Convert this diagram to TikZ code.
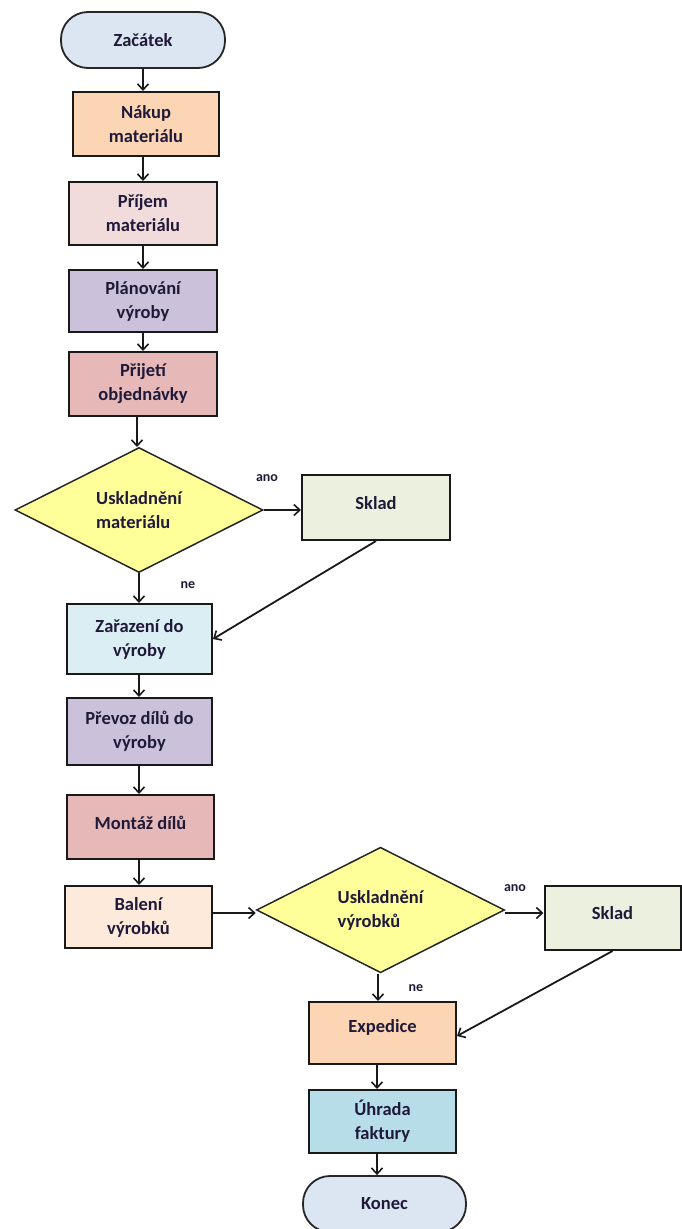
\documentclass[tikz,border=0pt]{standalone}
\usepackage{fontspec}
\setmainfont{Carlito}
\usetikzlibrary{arrows.meta,shapes.geometric}
\definecolor{cTerm}{HTML}{DCE6F2}
\definecolor{cPeach}{HTML}{FCD5B5}
\definecolor{cPink}{HTML}{F2DCDB}
\definecolor{cLilac}{HTML}{CCC1DA}
\definecolor{cRose}{HTML}{E6B9B8}
\definecolor{cYellow}{HTML}{FFFF99}
\definecolor{cSklad}{HTML}{EBF1DE}
\definecolor{cIce}{HTML}{DBEEF4}
\definecolor{cCream}{HTML}{FDEADA}
\definecolor{cAqua}{HTML}{B7DEE8}
\definecolor{cText}{HTML}{1F1A3A}
\begin{document}
\begin{tikzpicture}[x=1pt,y=-1pt,
  every node/.style={text=cText,font=\fontsize{18.5}{24}\selectfont\bfseries},
  procbox/.style={draw=black!90,line width=2pt,rectangle,align=center,inner sep=2pt,minimum width=#1},
  procbox/.default=148pt,
  termbox/.style={draw=black!85,line width=1.8pt,rectangle,rounded corners=27pt,fill=cTerm,minimum width=164pt,minimum height=56pt},
  decbox/.style={draw=black!85,line width=1.5pt,diamond,fill=cYellow,minimum width=248pt,minimum height=125pt,inner sep=0pt,align=left},
  flow/.style={draw=black!90,line width=1.8pt,-{Straight Barb[length=6pt,width=11pt,line width=1.6pt]}},
  lbl/.style={font=\fontsize{14}{16}\selectfont\bfseries}]
\useasboundingbox (0,0) rectangle (682,1229);
\fill[white] (0,0) rectangle (682,1229);
% top column
\node[termbox] (start) at (143,40) {Začátek};
\node[procbox=146pt,minimum height=64pt,fill=cPeach] (nakup) at (146,124) {Nákup\\materiálu};
\node[procbox,minimum height=63pt,fill=cPink] (prijem) at (143,213.5) {Příjem\\materiálu};
\node[procbox,minimum height=62pt,fill=cLilac] (plan) at (143,301) {Plánování\\výroby};
\node[procbox,minimum height=64pt,fill=cRose] (prijeti) at (143,384) {Přijetí\\objednávky};
\node[decbox] (d1) at (139,510) {Uskladnění\\materiálu};
\node[procbox,minimum height=65pt,fill=cSklad] (sklad1) at (376,507.5) {\raisebox{8pt}{Sklad}};
\node[procbox=145pt,minimum height=70pt,fill=cIce] (zar) at (139.5,639) {Zařazení do\\výroby};
\node[procbox=145pt,minimum height=67pt,fill=cLilac] (prevoz) at (139.5,731.5) {Převoz dílů do\\výroby};
\node[procbox=147pt,minimum height=64pt,fill=cRose] (montaz) at (140.5,827) {\raisebox{9pt}{Montáž dílů}};
\node[procbox=147pt,minimum height=62pt,fill=cCream] (baleni) at (138.5,917) {Balení\\výrobků};
\node[decbox] (d2) at (380.5,910) {Uskladnění\\výrobků};
\node[procbox=136pt,minimum height=64pt,fill=cSklad] (sklad2) at (612.5,918) {\raisebox{10pt}{Sklad}};
\node[procbox=147pt,minimum height=62pt,fill=cPeach] (exped) at (382.5,1033) {\raisebox{14pt}{Expedice}};
\node[procbox=147pt,minimum height=63pt,fill=cAqua] (uhrada) at (382.5,1121.5) {Úhrada\\faktury};
\node[termbox,minimum width=163pt] (konec) at (384.5,1204) {Konec};
% labels
\node[lbl] (ano1) at (267,478) {ano};
\node[lbl] (ne1) at (188,585) {ne};
\node[lbl] (ano2) at (515,888) {ano};
\node[lbl] (ne2) at (416,988) {ne};
% connectors
\draw[flow] (start) -- (start |- nakup.north);
\draw[flow] (nakup.south -| prijem) -- (prijem.north);
\draw[flow] (prijem) -- (plan);
\draw[flow] (plan) -- (prijeti);
\draw[flow] (prijeti.south -| 137,0) -- (137,447);
\draw[flow] (d1.east) -- (d1.east -| sklad1.west);
\draw[flow] (d1.south) -- (d1.south |- zar.north);
\draw[flow] (sklad1.south) -- (zar.east);
\draw[flow] (zar.south -| 139,0) -- (prevoz.north -| 139,0);
\draw[flow] (prevoz.south -| 139,0) -- (montaz.north -| 139,0);
\draw[flow] (montaz.south -| 139,0) -- (baleni.north -| 139,0);
\draw[flow] (baleni.east |- 0,913) -- (d2.west |- 0,913);
\draw[flow] (d2.east |- 0,913) -- (sklad2.west |- 0,913);
\draw[flow] (sklad2.south) -- (exped.east |- 0,1036);
\draw[flow] (d2.south -| 378,0) -- (exped.north -| 378,0);
\draw[flow] (exped.south -| 377,0) -- (uhrada.north -| 377,0);
\draw[flow] (uhrada.south -| 377,0) -- (konec.north -| 377,0);
\end{tikzpicture}
\end{document}
